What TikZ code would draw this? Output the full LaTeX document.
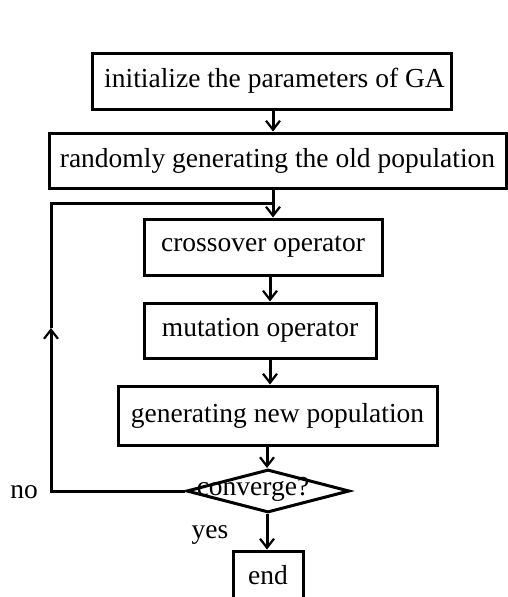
\documentclass[tikz,border=0pt]{standalone}
\usepackage{fontspec}
\setmainfont{Liberation Serif}
\usetikzlibrary{arrows.meta,shapes.geometric}
\begin{document}
\begin{tikzpicture}[x=1pt,y=-1pt,
  every node/.style={font=\fontsize{27.5}{32}\selectfont},
  box/.style={draw, line width=3pt, rectangle, inner sep=0pt},
  conn/.style={line width=3pt},
  arr/.style={conn, -{Straight Barb[length=9pt,width=14pt,line width=2.2pt]}}]
\useasboundingbox (0,0) rectangle (507,597);
\node[box, minimum width=359pt, minimum height=56pt] (b1) at (271.5,81) {\hspace*{6pt}initialize the parameters of GA};
\node[box, minimum width=457pt, minimum height=55pt] (b2) at (277.5,160.5) {randomly generating the old population};
\node[box, minimum width=238pt, minimum height=56pt] (b3) at (263,247) {crossover operator};
\node[box, minimum width=232pt, minimum height=55pt] (b4) at (260,330.5) {mutation operator};
\node[box, minimum width=319pt, minimum height=59pt] (b5) at (277.5,415.5) {generating new population};
\node[draw, line width=3pt, diamond, inner sep=0pt, minimum width=163pt, minimum height=43pt] (d) at (268,491) {};
\node[inner sep=0pt] (dt) at (253,489) {converge?};
\node[box, minimum width=70pt, minimum height=48pt] (e) at (268,575) {end};
\node[inner sep=0pt] (no) at (24,492) {no};
\node[inner sep=0pt] (yes) at (210,535) {yes};
\coordinate (c1) at (273,0);
\coordinate (c2) at (270,0);
\coordinate (c3) at (267,0);
\coordinate (lp) at (51,203);
\coordinate (j) at (273,203);
\coordinate (am) at (51,328);
\draw[arr] (b1.south -| c1) -- (b2.north -| c1);
\draw[arr] (b2.south -| c1) -- (b3.north -| c1);
\draw[arr] (b3.south -| c2) -- (b4.north -| c2);
\draw[arr] (b4.south -| c2) -- (b5.north -| c2);
\draw[arr] (b5.south -| c3) -- (d.north -| c3);
\draw[arr] (d.south -| c3) -- (e.north -| c3);
\draw[arr] (d.west) -- (d.west -| lp) -- (am);
\draw[conn] (am) -- (lp) -- (j);
\end{tikzpicture}
\end{document}
